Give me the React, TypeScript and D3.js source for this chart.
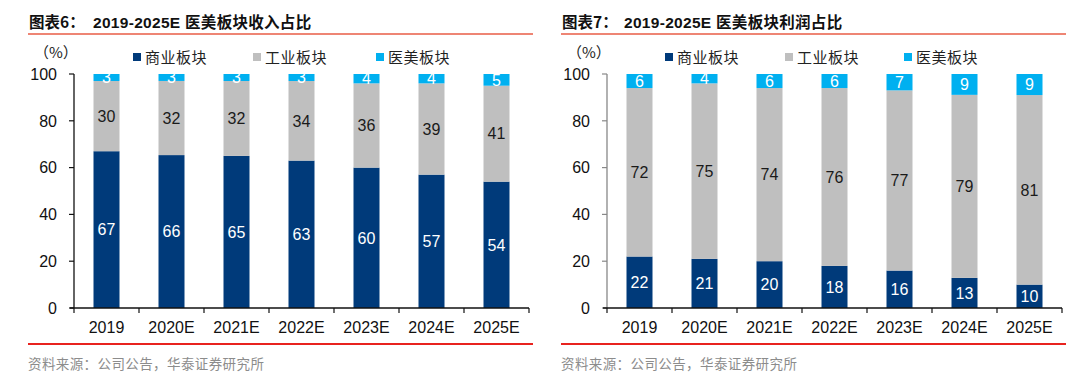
import React from "react";
import * as d3 from "d3";

const categories = ["2019", "2020E", "2021E", "2022E", "2023E", "2024E", "2025E"];
const seriesNames = ["商业板块", "工业板块", "医美板块"];
const seriesKeys = ["commercial", "industrial", "aesthetic"];

const revCommercial = [67, 66, 65, 63, 60, 57, 54];
const revIndustrial = [30, 32, 32, 34, 36, 39, 41];
const revAesthetic = [3, 3, 3, 3, 4, 4, 5];

const profCommercial = [22, 21, 20, 18, 16, 13, 10];
const profIndustrial = [72, 75, 74, 76, 77, 79, 81];
const profAesthetic = [6, 4, 6, 6, 7, 9, 9];

const yTicks = [0, 20, 40, 60, 80, 100];

const COLORS = ["#003A7A", "#BFBFBF", "#00B0F0"];
const LABEL_COLORS = ["#FFFFFF", "#1a1a1a", "#FFFFFF"];
const FONT = "'Liberation Sans', Arial, 'Noto Sans CJK SC', sans-serif";
const CJK = "'Noto Sans CJK SC', 'Liberation Sans', sans-serif";

type Panel = {
  x0: number;
  titleNo: string;
  title: string;
  titleTextX: number;
  a: number[];
  b: number[];
  c: number[];
  yAxisColor: string;
  legendX: number[];
};

function ChartPanel({ p }: { p: Panel }) {
  const axisLeft = p.x0 + 74;
  const axisRight = axisLeft + 455;
  const top = 74;
  const bottom = 308;
  const x = d3.scaleBand<string>().domain(categories).range([axisLeft, axisRight]).paddingInner(0.6).paddingOuter(0.3);
  const y = d3.scaleLinear().domain([0, 1]).range([bottom, top]);
  const yt = d3.scaleLinear().domain([0, 100]).range([bottom, top]);
  const rows = categories.map((cat, i) => ({ cat, commercial: p.a[i], industrial: p.b[i], aesthetic: p.c[i] }));
  const stacked = d3.stack<any>().keys(seriesKeys).offset(d3.stackOffsetExpand)(rows);
  const step = x.step();
  const lineStart = p.x0 + 28;
  const lineEnd = p.x0 + 533;
  return (
    <g>
      <text x={p.x0 + 29} y={28} fontFamily={CJK} fontWeight="bold" fontSize={15.5} fill="#111">{p.titleNo}</text>
      <text x={p.titleTextX} y={28} fontFamily={FONT} fontWeight="bold" fontSize={15.5} fill="#111" letterSpacing={0.3}>{p.title}</text>
      <line x1={lineStart} x2={lineEnd} y1={34} y2={34} stroke="#EE8574" strokeWidth={2} />
      <text x={p.x0 + 34} y={58} fontFamily={CJK} fontSize={15} fill="#222">（%）</text>
      {seriesNames.map((n, i) => (
        <g key={n}>
          <rect x={p.legendX[i]} y={53} width={8} height={8} fill={COLORS[i]} />
          <text x={p.legendX[i] + 12} y={62.5} fontFamily={CJK} fontSize={15} fill="#222" letterSpacing={0.5}>{n}</text>
        </g>
      ))}
      {stacked.map((s, si) =>
        s.map((d, i) => {
          const cat = categories[i];
          const bx = x(cat)!;
          const y0 = y(d[0]);
          const y1 = y(d[1]);
          return (
            <g key={si + "-" + i}>
              <rect x={bx} y={y1} width={x.bandwidth()} height={y0 - y1} fill={COLORS[si]} />
              <text x={bx + x.bandwidth() / 2} y={(y0 + y1) / 2} dy="0.36em" textAnchor="middle" fontFamily={FONT} fontSize={16} fill={LABEL_COLORS[si]}>
                {(d.data as any)[seriesKeys[si]]}
              </text>
            </g>
          );
        })
      )}
      <line x1={axisLeft} x2={axisLeft} y1={top} y2={bottom} stroke={p.yAxisColor} strokeWidth={1.3} />
      {yTicks.map((t) => (
        <g key={t}>
          <line x1={axisLeft - 5} x2={axisLeft} y1={yt(t)} y2={yt(t)} stroke={p.yAxisColor} strokeWidth={1.2} />
          <text x={axisLeft - 17} y={yt(t)} dy="0.36em" textAnchor="end" fontFamily={FONT} fontSize={16} fill="#111">{t}</text>
        </g>
      ))}
      <line x1={axisLeft - 4} x2={axisRight} y1={bottom} y2={bottom} stroke="#111" strokeWidth={1.3} />
      {categories.map((c, i) => (
        <line key={"t" + c} x1={axisLeft + step * (i + 1)} x2={axisLeft + step * (i + 1)} y1={bottom} y2={bottom + 5} stroke="#111" strokeWidth={1.2} />
      ))}
      <line x1={axisLeft} x2={axisLeft} y1={bottom} y2={bottom + 5} stroke="#111" strokeWidth={1.2} />
      {categories.map((c) => (
        <text key={"l" + c} x={x(c)! + x.bandwidth() / 2} y={333} textAnchor="middle" fontFamily={FONT} fontSize={16} fill="#111">{c}</text>
      ))}
      <line x1={lineStart} x2={lineEnd} y1={344} y2={344} stroke="#E8231F" strokeWidth={2} />
      <text x={p.x0 + 28} y={369} fontFamily={CJK} fontSize={13.5} fill="#8C8C8C" letterSpacing={0.4}>资料来源：公司公告，华泰证券研究所</text>
    </g>
  );
}

export default function App() {
  const panels: Panel[] = [
    { x0: 0, titleNo: "图表6：", title: "2019-2025E 医美板块收入占比", titleTextX: 93, a: revCommercial, b: revIndustrial, c: revAesthetic, yAxisColor: "#111", legendX: [133, 253, 376] },
    { x0: 533, titleNo: "图表7：", title: "2019-2025E 医美板块利润占比", titleTextX: 624, a: profCommercial, b: profIndustrial, c: profAesthetic, yAxisColor: "#888", legendX: [665, 785, 904] },
  ];
  return (
    <svg width={1080} height={381} style={{ position: "absolute", left: 0, top: 0, background: "#fff" }}>
      <rect width={1080} height={381} fill="#fff" />
      {panels.map((p) => (
        <ChartPanel key={p.titleNo} p={p} />
      ))}
    </svg>
  );
}
